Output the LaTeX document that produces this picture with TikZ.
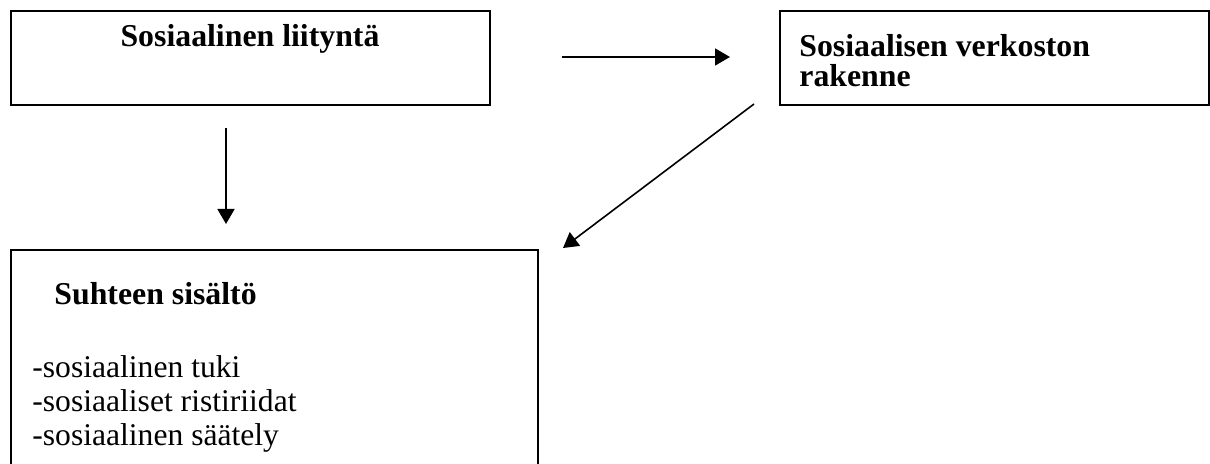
\documentclass[tikz,border=0pt]{standalone}
\usepackage{fontspec}
\setmainfont{Liberation Serif}
\usepackage{tikz}
\usetikzlibrary{arrows.meta, positioning}

\tikzset{
  kehys/.style={draw, line width=1pt, inner sep=0pt, anchor=north west},
  nuoli/.style={->, line width=0.8pt},
  otsikko/.style={font=\fontsize{15.9}{15}\selectfont\bfseries, inner sep=0pt},
  teksti/.style={font=\fontsize{15.8}{17}\selectfont, inner sep=0pt},
}

\begin{document}
\begin{tikzpicture}[x=0.5pt, y=-0.5pt, >={Triangle[length=7.5pt,width=8.5pt]}]

\useasboundingbox (0,0) rectangle (1210,464);
\clip (0,0) rectangle (1210,464);

% laatikot
\node[kehys, minimum width=239.5pt, minimum height=47pt] (liitynta) at (10,10) {};
\node[kehys, minimum width=214.5pt, minimum height=47pt] (verkosto) at (779,10) {};
\node[kehys, minimum width=263.5pt, minimum height=140pt] (sisalto) at (10,249) {};

% tekstit (base = viimeisen rivin perusviiva)
\node[otsikko, anchor=base] (liitynta-t) at (250,47) {Sosiaalinen liityntä};
\node[otsikko, anchor=base west, align=left] (verkosto-t) at (799,86.5) {Sosiaalisen verkoston\\rakenne};
\node[otsikko, anchor=base west] (sisalto-t) at (54,305) {Suhteen sisältö};
\node[teksti, anchor=base west, align=left] (sisalto-l) at (32,445)
  {-sosiaalinen tuki\\-sosiaaliset ristiriidat\\-sosiaalinen säätely};

% nuolet
\coordinate (h1) at (562,57);
\coordinate (h2) at (730,57);
\coordinate (v1) at (226,128);
\coordinate (v2) at (226,224);
\coordinate (d1) at (754,104);
\coordinate (d2) at (563,248);

\draw[nuoli] (h1) -- (h2);
\draw[nuoli] (v1) -- (v2);
\draw[nuoli] (d1) -- (d2);

\end{tikzpicture}
\end{document}
